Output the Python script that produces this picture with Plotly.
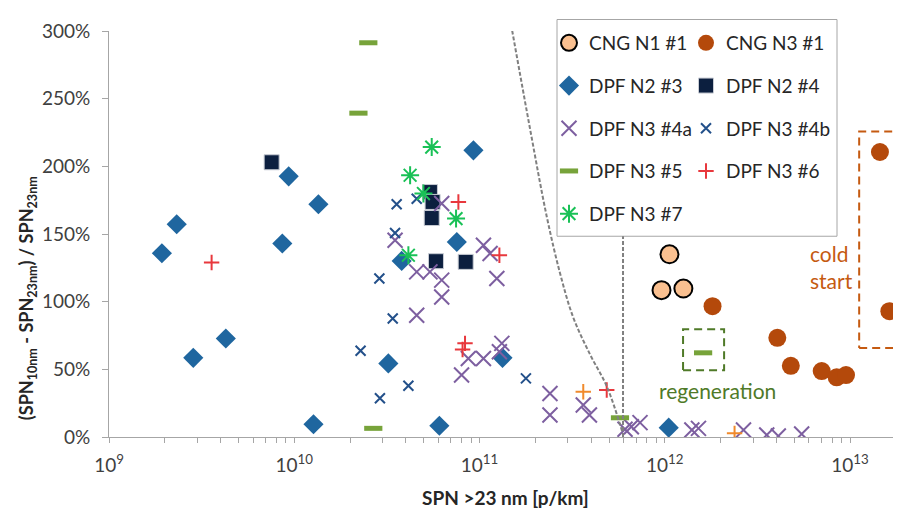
import numpy as np
import plotly.graph_objects as go

# ---------------- data ----------------
cng_n1_x = [1.06e12, 9.6e11, 1.26e12]
cng_n1_y = [135, 108.5, 109.7]

cng_n3_x = [1.81e12, 4.05e12, 4.79e12, 7.03e12, 8.47e12, 9.51e12, 1.63e13, 1.45e13]
cng_n3_y = [96.7, 73.3, 52.6, 48.7, 44.1, 45.8, 93, 210.6]

dpf_n2_3_x = [1.93e9, 2.32e9, 2.85e9, 4.27e9, 8.62e9, 9.33e9, 1.35e10, 1.27e10,
              9.27e10, 7.54e10, 3.8e10, 3.22e10, 1.33e11, 6.07e10, 1.05e12]
dpf_n2_3_y = [135.8, 157.2, 58.5, 72.8, 143, 192.6, 172, 9.4,
              211.8, 144.1, 130.1, 54.4, 58.5, 8.3, 6.9]

dpf_n2_4_x = [7.55e9, 5.4e10, 5.58e10, 5.52e10, 5.82e10, 8.42e10]
dpf_n2_4_y = [203, 181, 173.7, 161.8, 129.9, 129.4]

dpf_n3_4a_x = [6.25e10, 3.5e10, 4.58e10, 5.4e10, 6.25e10, 6.25e10, 4.58e10, 1.05e11,
               1.14e11, 1.24e11, 1.32e11, 1.28e11, 8.7e10, 1.05e11, 8.0e10, 2.4e11,
               2.4e11, 3.63e11, 3.92e11, 6.1e11, 6.6e11, 7.35e11, 1.4e12, 1.52e12,
               2.66e12, 3.55e12, 4.1e12, 5.48e12]
dpf_n3_4a_y = [172.5, 145.4, 122, 122, 115.9, 103.5, 90, 141.7,
               135.6, 117.1, 69.2, 63, 58, 58, 45.8, 32.2,
               16.2, 23.6, 16.2, 5.7, 7.6, 10.6, 5.2, 6.4,
               5.2, 1.5, 0.7, 2.2]

dpf_n3_4b_x = [3.57e10, 4.58e10, 3.5e10, 2.88e10, 3.4e10, 2.28e10, 4.13e10, 2.9e10, 1.78e11]
dpf_n3_4b_y = [172, 176, 150.8, 117.1, 87.6, 63.7, 37.9, 28.6, 43.3]

dpf_n3_5_x = [2.51e10, 2.22e10, 2.67e10, 5.73e11, 1.61e12]
dpf_n3_5_y = [291.3, 239.3, 6.4, 14.2, 62.2]

dpf_n3_6_x = [3.58e9, 7.69e10, 1.28e11, 8.35e10, 8.1e10, 4.86e11]
dpf_n3_6_y = [128.9, 173.7, 134.3, 69.2, 64.7, 34.7]

extra_plus_x = [3.63e11, 2.38e12]
extra_plus_y = [33.4, 2.7]

dpf_n3_7_x = [5.52e10, 4.22e10, 4.98e10, 7.47e10, 4.13e10]
dpf_n3_7_y = [214.2, 193.4, 179.9, 161.4, 134.3]

# guide lines and highlighted regions
limit_curve_x = [1.50e11, 1.88e11, 2.31e11, 2.72e11, 3.2e11, 3.95e11, 4.88e11, 5.95e11]
limit_curve_y = [300.4, 226.6, 162.4, 121, 88.6, 61, 36.9, 2]
limit_vert_x = [5.95e11, 5.95e11]
limit_vert_y = [0, 148.3]
regen_box_x = [1.255e12, 2.09e12]
regen_box_y = [49.4, 79.7]
cold_box_x = [1.12e13, 1.80e13]
cold_box_y = [65.7, 225.8]

x_tick_vals = [m * 10.0 ** e for e in range(9, 13) for m in range(1, 10)] + [1e13]
x_tick_text = [("10<sup>%d</sup>" % e if m == 1 else "") for e in range(9, 13) for m in range(1, 10)] + ["10<sup>13</sup>"]
y_tick_vals = [0, 50, 100, 150, 200, 250, 300]
y_tick_text = ["0%", "50%", "100%", "150%", "200%", "250%", "300%"]

FONT = "Lato"
TXT = "#404040"
PAGE_OFFSET = 8  # default body margin of the html page

# plot area in page pixels: x 109..901, y 30.5..437
PX_L, PX_T, PX_B = 109, 30.5, 437
PW, PH = 792, 406.5

def px_x(p):
    return (p - PX_L) / PW

def px_y(p):
    return (PX_B - p) / PH

fig = go.Figure()

def add(name, x, y, legend, **marker):
    fig.add_trace(go.Scatter(x=x, y=y, mode="markers", name=name, legend=legend,
                             legendgroup=name, marker=marker, hoverinfo="x+y+name"))

add("CNG N1 #1", cng_n1_x, cng_n1_y, "legend", symbol="circle", size=18,
    color="#FAC090", line=dict(color="#000000", width=2))
add("CNG N3 #1", cng_n3_x, cng_n3_y, "legend2", symbol="circle", size=18,
    color="#B4490B", line=dict(width=0))
add("DPF N2 #3", dpf_n2_3_x, dpf_n2_3_y, "legend", symbol="diamond", size=15.5,
    color="#1F669F", line=dict(width=0))
add("DPF N2 #4", dpf_n2_4_x, dpf_n2_4_y, "legend2", symbol="square", size=15,
    color="#0C1F3F", line=dict(color="#C8CCD4", width=1))
add("DPF N3 #4a", dpf_n3_4a_x, dpf_n3_4a_y, "legend", symbol="x-thin-open", size=15,
    color="#7D5FA0", line=dict(color="#7D5FA0", width=2))
add("DPF N3 #4b", dpf_n3_4b_x, dpf_n3_4b_y, "legend2", symbol="x-thin-open", size=10,
    color="#23508A", line=dict(color="#23508A", width=2))
add("DPF N3 #5", dpf_n3_5_x, dpf_n3_5_y, "legend", symbol="line-ew-open", size=13,
    color="#77A33A", line=dict(color="#77A33A", width=5))
add("DPF N3 #6", dpf_n3_6_x, dpf_n3_6_y, "legend2", symbol="cross-thin-open", size=11,
    color="#E8383D", line=dict(color="#E8383D", width=2))
fig.add_trace(go.Scatter(x=extra_plus_x, y=extra_plus_y, mode="markers", showlegend=False,
                         marker=dict(symbol="cross-thin-open", size=11, color="#F08A2C",
                                     line=dict(color="#F08A2C", width=2))))
add("DPF N3 #7", dpf_n3_7_x, dpf_n3_7_y, "legend", symbol="asterisk-open", size=15,
    color="#19C156", line=dict(color="#19C156", width=2))

# guide lines
fig.add_trace(go.Scatter(x=limit_curve_x, y=limit_curve_y, mode="lines", showlegend=False,
                         line=dict(color="#808080", width=2, dash="4px,2px", shape="spline"),
                         hoverinfo="skip"))
fig.add_trace(go.Scatter(x=limit_vert_x, y=limit_vert_y, mode="lines", showlegend=False,
                         line=dict(color="#808080", width=2, dash="4px,2px"), hoverinfo="skip"))

def box(xs, ys, color):
    fig.add_trace(go.Scatter(x=[xs[0], xs[1], xs[1], xs[0], xs[0]],
                             y=[ys[0], ys[0], ys[1], ys[1], ys[0]],
                             mode="lines", showlegend=False, hoverinfo="skip",
                             line=dict(color=color, width=2, dash="8px,5px")))

box(regen_box_x, regen_box_y, "#4F7A28")
box(cold_box_x, cold_box_y, "#C55A11")

# legend frame
fig.add_shape(type="rect", xref="paper", yref="paper",
              x0=px_x(557), x1=px_x(837), y0=px_y(236), y1=px_y(19),
              line=dict(color="#A6A6A6", width=1), fillcolor="white", layer="below")

annotations = [
    dict(text="regeneration", x=np.log10(1.93e12), y=34.5, xref="x", yref="y",
         showarrow=False, font=dict(family=FONT, size=21, color="#4F7A28")),
    dict(text="cold<br>start", x=np.log10(5.95e12), y=125.5, xref="x", yref="y",
         xanchor="left", align="left", showarrow=False,
         font=dict(family=FONT, size=21, color="#C55A11")),
    dict(text="<b>SPN >23 nm [p/km]</b>", x=px_x(505), y=px_y(498), xref="paper",
         yref="paper", showarrow=False, xanchor="center", yanchor="middle",
         font=dict(family=FONT, size=19, color="#262626")),
    dict(text="<b>(SPN<sub>10nm</sub> - SPN<sub>23nm</sub>) / SPN<sub>23nm</sub></b>",
         x=px_x(27), y=px_y(298), xref="paper", yref="paper",
         textangle=-90, showarrow=False, xanchor="center", yanchor="middle",
         font=dict(family=FONT, size=18, color="#262626")),
]

leg_common = dict(bgcolor="rgba(0,0,0,0)", borderwidth=0, tracegroupgap=15,
                  itemsizing="trace", orientation="v", yanchor="top", xanchor="left",
                  font=dict(family=FONT, size=19, color="#262626"))

fig.update_layout(
    width=901 - PAGE_OFFSET, height=510 - PAGE_OFFSET,
    margin=dict(l=PX_L - PAGE_OFFSET, r=0, t=PX_T - PAGE_OFFSET, b=510 - PX_B,
                autoexpand=False),
    paper_bgcolor="white", plot_bgcolor="white",
    font=dict(family=FONT, size=19, color=TXT),
    xaxis=dict(type="log", range=[9, 13.275], tickmode="array", tickvals=x_tick_vals,
               ticktext=x_tick_text, showgrid=False, zeroline=False, showline=True,
               linecolor="#A6A6A6", linewidth=1, ticks="outside", ticklen=5,
               tickcolor="#A6A6A6", tickfont=dict(family=FONT, size=19, color=TXT),
               ticklabelstandoff=6, automargin=False),
    yaxis=dict(range=[0, 300], tickmode="array", tickvals=y_tick_vals, ticktext=y_tick_text,
               showgrid=False, zeroline=False, showline=True, linecolor="#A6A6A6",
               linewidth=1, ticks="outside", ticklen=6, tickcolor="#A6A6A6",
               tickfont=dict(family=FONT, size=19, color=TXT), ticklabelstandoff=8,
               automargin=False),
    legend=dict(x=px_x(549), y=px_y(23.5), **leg_common),
    legend2=dict(x=px_x(686), y=px_y(23.5), **leg_common),
    annotations=annotations,
    showlegend=True,
)

fig.write_html("out.html")
